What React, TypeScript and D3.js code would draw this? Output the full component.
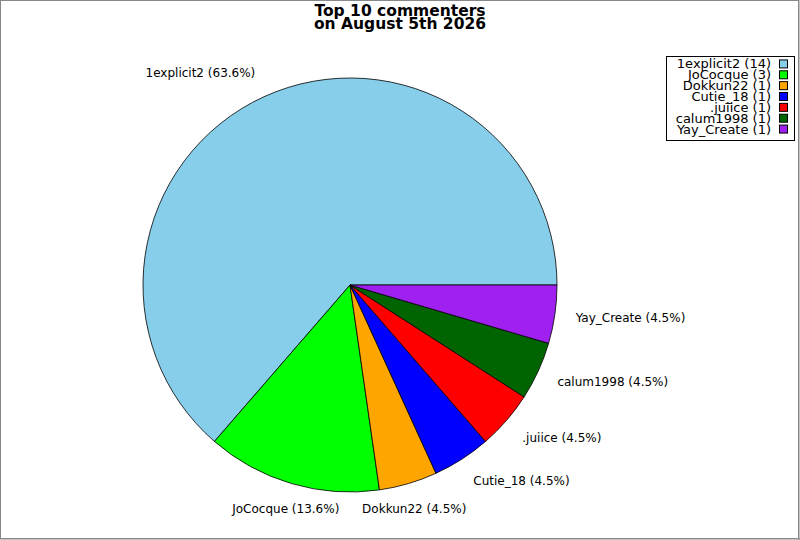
import React from 'react';
import * as d3 from 'd3';

const names = ['1explicit2', 'JoCocque', 'Dokkun22', 'Cutie_18', '.juiice', 'calum1998', 'Yay_Create'];
const counts = [14, 3, 1, 1, 1, 1, 1];
const colors = ['#87CEEB', '#00FF00', '#FFA500', '#0000FF', '#FF0000', '#006400', '#A020F0'];
const titleLines = ['Top 10 commenters', 'on August 5th 2026'];

const W = 800;
const H = 540;
const cx = 350;
const cy = 285;
const radius = 207;
const labelR = 228;
const font = 'DejaVu Sans, sans-serif';

export default function App() {
  const total = d3.sum(counts);
  const items = names.map((name, i) => ({ name, count: counts[i], color: colors[i] }));

  // counter-clockwise from 3 o'clock, like the source chart
  const pie = d3.pie<typeof items[0]>()
    .value(d => d.count)
    .sort(null)
    .startAngle(Math.PI / 2)
    .endAngle(Math.PI / 2 - 2 * Math.PI);
  const arcs = pie(items);
  const arc = d3.arc<d3.PieArcDatum<typeof items[0]>>().innerRadius(0).outerRadius(radius);

  const legendY = d3.scaleBand<number>().domain(d3.range(items.length)).range([58, 134]);

  return (
    <svg width={W} height={H} style={{ position: 'fixed', left: 0, top: 0 }} fontFamily={font}>
      <rect x={0.5} y={0.5} width={W - 2} height={H - 2} fill="#fff" stroke="#888" />
      <line x1={W - 1} y1={0} x2={W - 1} y2={H} stroke="#888" />
      <line x1={0} y1={H - 1} x2={W} y2={H - 1} stroke="#888" />

      {titleLines.map((t, i) => (
        <text key={t} x={400} y={16 + i * 13} textAnchor="middle" fontSize={15.5} fontWeight="bold" fill="#000">
          {t}
        </text>
      ))}

      <g transform={`translate(${cx},${cy})`}>
        {arcs.map(a => (
          <path key={a.data.name} d={arc(a) ?? ''} fill={a.data.color} stroke="#000" strokeWidth={0.8} />
        ))}
        {arcs.map(a => {
          const mid = (a.startAngle + a.endAngle) / 2;
          const sx = Math.sin(mid);
          const sy = -Math.cos(mid);
          const anchor = Math.abs(sx) < 0.35 ? 'middle' : sx > 0 ? 'start' : 'end';
          const pct = ((a.data.count / total) * 100).toFixed(1);
          return (
            <text
              key={a.data.name}
              x={sx * labelR}
              y={sy * labelR + sy * 5}
              textAnchor={anchor}
              dominantBaseline="central"
              fontSize={12}
              fill="#000"
            >
              {`${a.data.name} (${pct}%)`}
            </text>
          );
        })}
      </g>

      <rect x={666.5} y={56.5} width={128} height={84} fill="#fff" stroke="#000" />
      {items.map((d, i) => {
        const y = legendY(i)! + legendY.bandwidth() / 2 + 0.5;
        return (
          <g key={d.name}>
            <text x={771} y={y} textAnchor="end" dominantBaseline="central" fontSize={13} fill="#000">
              {`${d.name} (${d.count})`}
            </text>
            <rect x={779.5} y={y - 4} width={8} height={8} fill={d.color} stroke="#000" />
          </g>
        );
      })}
    </svg>
  );
}
